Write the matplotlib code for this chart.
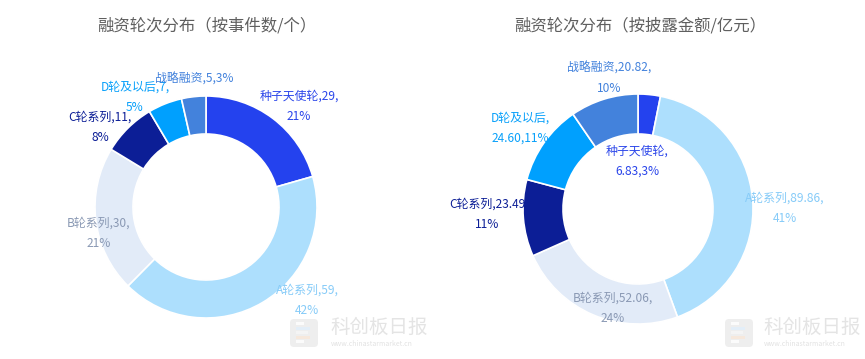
import matplotlib.pyplot as plt
from matplotlib.patches import FancyBboxPatch, Rectangle

plt.rcParams['font.family'] = ['Noto Sans CJK SC', 'DejaVu Sans']

# 数据
rounds = ['种子天使轮', 'A轮系列', 'B轮系列', 'C轮系列', 'D轮及以后', '战略融资']
event_counts = [29, 59, 30, 11, 7, 5]
event_pcts = ['21%', '42%', '21%', '8%', '5%', '3%']
amounts = [6.83, 89.86, 52.06, 23.49, 24.60, 20.82]
amount_pcts = ['3%', '41%', '24%', '11%', '11%', '10%']
titles = ['融资轮次分布（按事件数/个）', '融资轮次分布（按披露金额/亿元）']

colors = ['#2442ee', '#addffd', '#e2ebf8', '#0c1e96', '#00a0fe', '#4382dc']
label_colors = ['#2a45ea', '#86cbf8', '#8a99b4', '#0c1e96', '#08a0fa', '#4382dc']

W, H = 865, 359

# 标签换行方式与位置(像素)
left_fmt = ['{n},{v},\n{p}'] * 5 + ['{n},{v},{p}']
right_fmt = ['{n},\n{v},{p}', '{n},{v},\n{p}', '{n},{v},\n{p}',
             '{n},{v}\n{p}', '{n},\n{v},{p}', '{n},{v},\n{p}']
left_pos = [(299, 106), (307, 300), (99, 233), (100, 127), (135, 97), (194, 79)]
right_pos = [(637, 161), (785, 208), (613, 308), (487, 214), (520, 128), (609, 78)]

fig = plt.figure(figsize=(W / 100, H / 100), dpi=100)
ax = fig.add_axes([0, 0, 1, 1])

charts = [
    dict(vals=event_counts, pcts=event_pcts, fmt=left_fmt, pos=left_pos,
         center=(206, 207), r=111, w=38, vstr=lambda v: str(v), tx=207, fs=11.8),
    dict(vals=amounts, pcts=amount_pcts, fmt=right_fmt, pos=right_pos,
         center=(638, 209), r=115, w=40, vstr=lambda v: f'{v:.2f}', tx=640, fs=11.8),
]

for ch, title in zip(charts, titles):
    cx, cy = ch['center']
    ax.pie(ch['vals'], colors=colors, radius=ch['r'], center=(cx, H - cy),
           startangle=90, counterclock=False,
           wedgeprops=dict(width=ch['w'], edgecolor='white', linewidth=1.2))
    for name, v, p, f, (x, y), c in zip(rounds, ch['vals'], ch['pcts'],
                                         ch['fmt'], ch['pos'], label_colors):
        ax.text(x, H - y, f.format(n=name, v=ch['vstr'](v), p=p), color=c,
                fontsize=8.6, ha='center', va='center', linespacing=1.75,
                zorder=5)
    ax.text(ch['tx'], H - 26, title, fontsize=ch['fs'], color='#5f5f5f',
            ha='center', va='center')

# 水印
for lx, tx in [(290, 330), (725, 763)]:
    ax.add_patch(FancyBboxPatch((lx, H - 347), 28, 28,
                                boxstyle='round,pad=0,rounding_size=4',
                                fc='#eeeeee', ec='none', zorder=6))
    for i, (bw, bc) in enumerate([(8, '#fbfbfb'), (14, '#f6e8dc'),
                                  (12, '#f4f4f4'), (14, '#e3eef8'),
                                  (8, '#fbfbfb')]):
        ax.add_patch(Rectangle((lx + 6, H - 343 + i * 4.5), bw, 3,
                               fc=bc, ec='none', zorder=7))
    ax.text(tx, H - 327, '科创板日报', fontsize=14, color='#e4e4e4',
            ha='left', va='center', zorder=6)
    ax.text(tx + 1, H - 344, 'www.chinastarmarket.cn', fontsize=5,
            color='#e2e2e2', ha='left', va='center', zorder=6)

ax.set_xlim(0, W)
ax.set_ylim(0, H)
ax.set_aspect('equal')
ax.axis('off')

fig.savefig('out.png', dpi=100)
